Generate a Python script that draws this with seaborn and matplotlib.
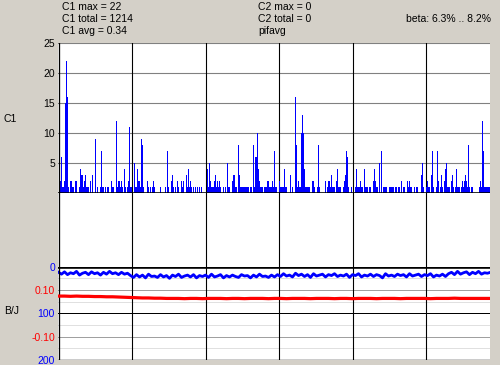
import numpy as np
import pandas as pd
import matplotlib
matplotlib.use("Agg")
import matplotlib.pyplot as plt
import seaborn as sns

# ---------------- data ----------------
seg1 = [0,9,2,6,1,1,2,15,22,16, 1,0,2,2,1,1,0,2,2,0, 0,1,4,3,3,1,2,3,1,1,
        1,0,2,0,3,0,0,9,0,1, 0,0,1,7,1,1,0,1,0,1, 1,0,0,2,1,1,0,0,12,1,
        2,2,1,2,1,0,4,1,0,1, 2,11,1,1]
seg2 = [0,0,5,1,1,4,2,2,1,9, 8,1,0,0,0,2,1,0,1,0, 1,2,1,0,0,0,0,0,1,0,
        0,0,0,1,0,7,1,0,0,2, 3,1,0,1,0,2,1,0,0,2, 1,2,0,0,3,1,4,1,2,1,
        0,1,0,1,0,1,0,1,0,1, 0,0,0,0]
seg3 = [0,4,1,5,2,1,1,1,2,3, 1,2,1,2,1,0,0,1,0,1, 0,5,1,1,0,0,2,3,3,1,
        1,0,8,3,1,1,1,1,1,1, 1,1,1,0,1,1,0,8,1,6, 6,10,4,2,1,1,1,0,1,1,
        1,2,2,1,1,1,2,1,7,1, 1,0,0]
seg4 = [2,1,1,1,1,4,1,1,0,0, 0,3,0,1,0,0,16,8,1,2, 1,1,10,13,10,4,1,1,1,1,
        1,0,0,2,2,1,0,0,1,8, 1,0,0,0,0,0,2,0,1,2, 2,1,3,1,1,1,0,2,4,1,
        1,1,0,0,1,2,3,7,6,1, 0,0,1,0]
seg5 = [0,0,1,4,1,1,1,2,1,1, 0,4,1,1,1,0,1,1,0,0, 2,4,2,1,1,0,5,0,7,0,
        1,1,1,1,0,0,1,1,1,1, 1,0,1,1,0,1,1,0,2,0, 1,1,0,0,2,1,2,1,1,0,
        0,1,0,1,1,0,0,0,3,5, 1,0,0]
seg6 = [1,2,1,1,0,3,7,1,0,0, 1,7,2,0,1,3,1,0,2,4, 5,1,1,1,0,2,3,1,0,1,
        4,1,1,1,0,1,2,1,2,3, 2,1,8,1,0,1,1,0,0,0, 0,0,0,1,2,1,12,7,1,1,
        1,1,1,1]
c1 = seg1 + seg2 + seg3 + seg4 + seg5 + seg6

# B (blue), sampled every 3 time steps
blue = [12,16,11,17,13,15,10,18,14,12,17,11,15,13,18,12,16,10,15,13,17,12,16,14,
        19,23,17,22,18,24,16,21,20,23,17,22,19,25,18,21,16,23,20,18,22,17,24,19,21,
        18,23,16,22,20,17,24,19,22,18,21,23,17,20,19,24,18,22,16,21,20,23,18,22,
        17,21,15,20,18,22,14,19,16,21,17,23,15,20,18,16,22,17,19,15,21,18,20,16,23,
        17,19,15,22,18,20,16,21,17,19,24,15,20,18,21,16,19,17,22,15,20,18,16,21,17,
        19,15,22,18,20,16,21,
        15,12,17,10,16,13,11,17,12,15,10,16,13,14,12]
# J (red), sampled every 6 time steps
red = [0.074,0.074,0.073,0.074,0.073,0.073,0.072,0.072,0.071,0.071,0.070,0.069,
       0.068,0.067,0.066,0.066,0.065,0.065,0.064,0.064,0.064,0.063,0.064,0.064,
       0.063,0.064,0.064,0.064,0.063,0.064,0.064,0.063,0.064,0.064,0.064,0.063,
       0.064,0.064,0.063,0.064,0.064,0.064,0.063,0.064,0.064,0.064,0.063,0.064,
       0.064,0.063,0.064,0.064,0.064,0.063,0.064,0.064,0.064,0.063,0.064,0.064,
       0.064,0.064,0.063,0.064,0.064,0.064,0.065,0.064,0.064,0.064,0.064,0.064,
       0.064]

c1_ticks = [5, 10, 15, 20, 25]
b_ticks = [0, 100, 200]
j_ticks = [0.10, -0.10]
j_labels = ["0.10", "-0.10"]
header_left = ["C1 max = 22", "C1 total = 1214", "C1 avg = 0.34"]
header_mid = ["C2 max = 0", "C2 total = 0", "pifavg"]
beta_text = "beta: 6.3% .. 8.2%"

# ---------------- figure ----------------
plt.rcParams["font.family"] = ["Liberation Sans", "DejaVu Sans"]
FS = 7.5
W, H = 500, 365
PX = 0.72
BG = "#d4d0c8"

fig = plt.figure(figsize=(5, 3.65), dpi=100, facecolor=BG)

def rect(x0, y0, x1, y1):
    return [x0 / W, 1 - y1 / H, (x1 - x0) / W, (y1 - y0) / H]

ax_t = fig.add_axes(rect(58, 43, 490, 193))
ax_m = fig.add_axes(rect(58, 193, 490, 266.7))
ax_b = fig.add_axes(rect(58, 266.7, 490, 360))

n = len(c1)
xmin, xmax = -0.5, 431.5
vlines = [73, 147, 220, 294, 367]

for ax in (ax_t, ax_m, ax_b):
    ax.set_facecolor("white")
    for s in ax.spines.values():
        s.set_visible(False)
    ax.set_xlim(xmin, xmax)
    ax.set_xticks([])
    for v in vlines:
        ax.axvline(v, color="black", lw=1.1 * PX, zorder=1)
    ax.axvline(xmin + 0.6, color="black", lw=1.3 * PX, zorder=5)

# --- top C1 bars ---
df = pd.DataFrame({"t": np.arange(n), "c1": c1})
for g in c1_ticks:
    ax_t.axhline(g, color="#808080", lw=1.1 * PX, zorder=0.5)
sns.barplot(data=df, x="t", y="c1", native_scale=True, width=1, color="#0000ff",
            saturation=1, linewidth=0, edgecolor="none", ax=ax_t, zorder=2)
for p in ax_t.patches:
    p.set_antialiased(False)
ax_t.axhline(0, color="black", lw=2.6 * PX, zorder=4)
ax_t.set_xlim(xmin, xmax)
ax_t.set_ylim(0, 25)
ax_t.set_yticks(c1_ticks)
ax_t.set_yticklabels([str(v) for v in c1_ticks])
ax_t.tick_params(axis="y", length=0, pad=3 * PX, labelsize=FS, colors="black")
ax_t.set_xlabel("")
ax_t.set_ylabel("")

ax_m.set_yticks([])
ax_m.set_ylim(0, 1)

# --- bottom B/J ---
ax_b.set_ylim(200, 0)
for g, c, w in [(25, "#e0e0e0", 1), (50, "#a0a0a0", 1), (75, "#e0e0e0", 1),
                (100, "black", 1), (125, "#e0e0e0", 1), (150, "#a0a0a0", 1),
                (175, "#e0e0e0", 1)]:
    ax_b.axhline(g, color=c, lw=w * PX, zorder=0.5)
ax_b.axhline(0, color="black", lw=2.6 * PX, zorder=4)
ax_b.axhline(199.3, color="black", lw=1.4 * PX, zorder=4)

dfb = pd.DataFrame({"t": np.arange(len(blue)) * 3, "b": blue})
sns.lineplot(data=dfb, x="t", y="b", color="#0000ff", lw=2.8 * PX,
             estimator=None, ax=ax_b, zorder=3)
ax_b.set_yticks(b_ticks)
ax_b.set_yticklabels([str(v) for v in b_ticks])
ax_b.tick_params(axis="y", length=0, pad=3 * PX, labelsize=FS, labelcolor="#0000ff")
ax_b.set_xlabel("")
ax_b.set_ylabel("")
ax_b.set_xlim(xmin, xmax)

ax_r = ax_b.twinx()
for s in ax_r.spines.values():
    s.set_visible(False)
dfr = pd.DataFrame({"t": np.arange(len(red)) * 6, "j": red})
sns.lineplot(data=dfr, x="t", y="j", color="#ff0000", lw=3.2 * PX,
             estimator=None, ax=ax_r, zorder=3)
ax_r.set_ylim(-0.2, 0.2)
ax_r.set_xlim(xmin, xmax)
ax_r.yaxis.tick_left()
ax_r.set_yticks(j_ticks)
ax_r.set_yticklabels(j_labels)
ax_r.tick_params(axis="y", length=0, pad=3 * PX, labelsize=FS, labelcolor="#ff0000",
                 left=True, right=False, labelleft=True, labelright=False)
ax_r.set_xticks([])
ax_r.set_xlabel("")
ax_r.set_ylabel("")

# --- texts ---
def ftext(x, y, s, **kw):
    fig.text(x / W, 1 - y / H, s, fontsize=FS, va="center", **kw)

for i, s in enumerate(header_left):
    ftext(62, 6.5 + 12.2 * i, s, ha="left")
for i, s in enumerate(header_mid):
    ftext(258, 6.5 + 12.2 * i, s, ha="left")
ftext(491, 18.5, beta_text, ha="right")
ftext(4, 119, "C1", ha="left")
ftext(4, 311, "B/J", ha="left")

fig.savefig("out.png", dpi=100, facecolor=BG)
